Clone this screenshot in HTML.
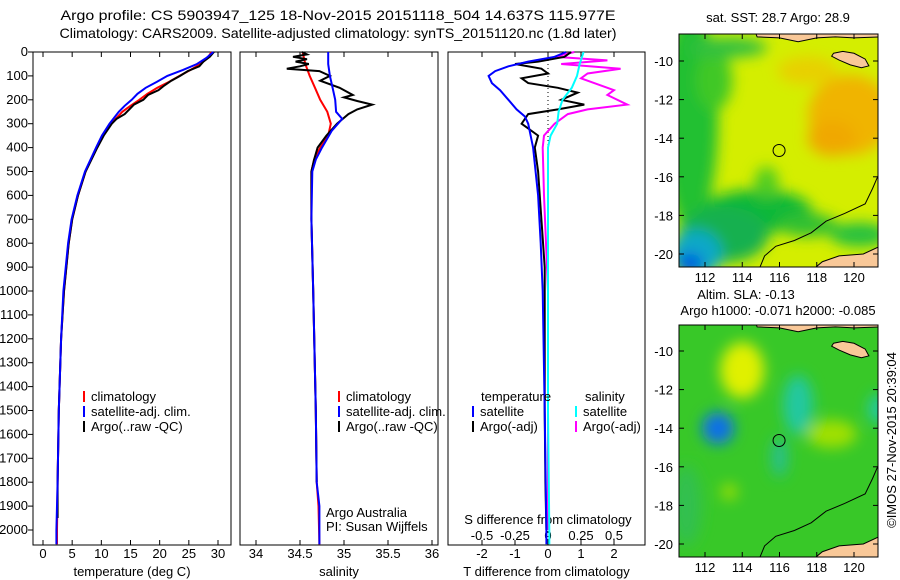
<!DOCTYPE html>
<html><head><meta charset="utf-8"><style>
body{margin:0;background:#fff;}
svg{display:block;font-family:"Liberation Sans",sans-serif;}
text{font-size:13px;fill:#000;}
</style></head><body>
<svg id="fig" width="900" height="580" viewBox="0 0 900 580">
<defs>
<filter id="blur1" x="-50%" y="-50%" width="200%" height="200%"><feGaussianBlur stdDeviation="7"/></filter>
<clipPath id="clipTop"><rect x="679" y="34" width="199" height="233"/></clipPath>
<clipPath id="clipBot"><rect x="679" y="325" width="199" height="232"/></clipPath>
</defs>
<text x="338" y="20" text-anchor="middle" textLength="555" lengthAdjust="spacingAndGlyphs" style="font-size:14px">Argo profile: CS 5903947_125 18-Nov-2015 20151118_504 14.637S 115.977E</text>
<text x="338" y="38" text-anchor="middle" textLength="557" lengthAdjust="spacingAndGlyphs" style="font-size:14px">Climatology: CARS2009. Satellite-adjusted climatology: synTS_20151120.nc (1.8d later)</text>
<g id="plots"></g>
<g id="maps"></g>
</svg>
<script>
// ---- data ----
var depthTicks=[0,100,200,300,400,500,600,700,800,900,1000,1100,1200,1300,1400,1500,1600,1700,1800,1900,2000];
var tempTicks=[0,5,10,15,20,25,30];
var salTicks=[34,34.5,35,35.5,36];
var salTickLabels=["34","34.5","35","35.5","36"];
var tdiffTicks=[-2,-1,0,1,2];
var sdiffTicks=[-0.5,-0.25,0,0.25,0.5];
var sdiffTickLabels=["-0.5","-0.25","0","0.25","0.5"];

var tClimDepth=[0,25,50,75,100,125,150,175,200,225,250,300,350,400,500,600,700,800,1000,1200,1500,1800,2000,2060];
var tClimVal=[28.9,28.2,27.0,25.3,23.4,21.6,19.6,17.9,16.5,15.0,13.6,11.7,10.3,9.2,7.3,6.0,5.0,4.4,3.6,3.1,2.7,2.5,2.4,2.4];
var tSatDepth=[0,25,50,75,100,125,150,175,200,225,250,300,350,400,500,600,700,800,1000,1200,1500,1800,2000,2060];
var tSatVal=[29.2,28.0,26.4,24.0,21.3,19.5,17.6,16.2,15.2,14.0,13.0,11.4,10.1,9.1,7.2,5.9,4.9,4.3,3.5,3.1,2.7,2.5,2.3,2.3];
var tArgoDepth=[0,20,40,60,80,100,120,140,160,180,200,220,240,260,280,300,350,400,500,600,700,800,1000,1200,1500,1800,1950];
var tArgoVal=[29.3,28.6,27.5,26.8,24.8,23.5,22.0,20.8,19.8,18.0,17.2,15.6,14.8,14.0,12.6,11.8,10.4,9.3,7.3,6.0,5.0,4.4,3.6,3.1,2.7,2.5,2.5];

var sClimDepth=[0,50,100,150,200,250,300,350,400,450,500,700,1000,1500,1800,1900,2060];
var sClimVal=[34.53,34.56,34.61,34.67,34.73,34.81,34.85,34.82,34.73,34.66,34.63,34.63,34.65,34.68,34.69,34.71,34.72];
var sSatDepth=[0,50,100,150,200,250,280,330,400,450,500,700,1000,1500,1800,1900,2060];
var sSatVal=[34.82,34.82,34.84,34.87,34.9,34.91,34.98,34.86,34.75,34.68,34.64,34.63,34.65,34.68,34.69,34.72,34.72];
var sArgoDepth=[0,10,20,30,40,50,60,70,80,100,120,150,180,190,205,220,240,260,300,350,400,450,500,700,1000,1500,1800];
var sArgoVal=[34.52,34.58,34.42,34.58,34.45,34.6,34.5,34.35,34.72,34.84,34.73,34.95,35.1,35.0,35.15,35.32,35.15,35.05,34.92,34.8,34.7,34.66,34.63,34.63,34.65,34.68,34.69];

var dTSatDepth=[0,20,40,60,80,100,130,160,200,240,270,300,400,600,800,1000,1500,2000,2060];
var dTSatVal=[0.55,0.2,-0.6,-1.2,-1.6,-1.8,-1.7,-1.45,-1.2,-0.95,-0.7,-0.6,-0.45,-0.3,-0.22,-0.16,-0.1,-0.05,-0.05];
var dTArgoDepth=[0,20,40,50,70,90,110,130,150,170,200,220,240,260,300,350,400,500,700,900,1500,1800,2000];
var dTArgoVal=[0.7,0.5,-0.3,-1.0,-0.2,0.0,-0.8,-0.6,0.3,0.9,0.4,1.1,0.3,-0.6,-0.8,-0.3,-0.4,-0.3,-0.2,-0.1,-0.1,-0.08,-0.05];
var dSSatDepth=[0,50,100,150,200,250,300,350,400,600,1000,1500,2000,2060];
var dSSatVal=[0.27,0.24,0.22,0.18,0.11,0.08,0.07,0.02,0.0,0.0,0.0,0.0,0.01,0.01];
var dSArgoDepth=[0,20,35,50,70,90,110,130,160,180,220,240,260,300,350,400,600,1000,1500,2000];
var dSArgoVal=[0.2,0.05,0.45,0.1,0.55,0.3,0.25,0.35,0.5,0.45,0.6,0.3,0.15,0.05,-0.03,-0.04,-0.03,0.0,0.0,0.0];

// ---- layout ----
var NS="http://www.w3.org/2000/svg";
var Y0=52, YB=545;
function yD(d){return Y0+(d/2000)*(530-Y0);}
var P1={x0:33,x1:231}, P2={x0:240,x1:438}, P3={x0:448,x1:645};
function xT(v){return 43+v*(175/30);}
function xS(v){return 256+(v-34)*88;}
function xDT(v){return 548+v*33;}
function xDS(v){return 548+v*132;}
var plots=document.getElementById('plots');
function mk(tag,attrs,parent){var e=document.createElementNS(NS,tag);for(var k in attrs)e.setAttribute(k,attrs[k]);(parent||plots).appendChild(e);return e;}
function txt(x,y,s,anchor,parent){var t=mk('text',{x:x,y:y,'text-anchor':anchor||'start'},parent);t.textContent=s;return t;}

function frame(P,name){
  var r=mk('rect',{x:P.x0,y:Y0,width:P.x1-P.x0,height:YB-Y0,fill:'none',stroke:'#000','stroke-width':1});
  
  
}
function series(ds,vs,fx,color,name){
  var pts=[];for(var i=0;i<ds.length;i++)pts.push(fx(vs[i]).toFixed(1)+','+yD(ds[i]).toFixed(1));
  var p=mk('polyline',{points:pts.join(' '),fill:'none',stroke:color,'stroke-width':2});
  
  
}
function xaxis(P,ticks,labels,fx,title,name){
  var g=mk('g',{});
  
  
  for(var i=0;i<ticks.length;i++){var x=fx(ticks[i]);
    mk('line',{x1:x,x2:x,y1:YB,y2:YB-5,stroke:'#000'},g);
    mk('line',{x1:x,x2:x,y1:Y0,y2:Y0+5,stroke:'#000'},g);
    var t=txt(x,558,labels[i],'middle',g);
    
    }
  var tt=txt((P.x0+P.x1)/2,576,title,'middle',g);
  
  
}
var ya=mk('g',{});


for(var i=0;i<depthTicks.length;i++){var y=yD(depthTicks[i]);
  mk('line',{x1:P1.x0-5,x2:P1.x0,y1:y,y2:y,stroke:'#000'},ya);
  var t=txt(28,y+4,String(depthTicks[i]),'end',ya);
  
  }

frame(P1,'temperature-panel');frame(P2,'salinity-panel');frame(P3,'difference-panel');
var z=mk('line',{x1:xDT(0),x2:xDT(0),y1:Y0,y2:YB,stroke:'#000','stroke-dasharray':'1,3'});



xaxis(P1,tempTicks,tempTicks.map(String),xT,'temperature (deg C)','temperature-axis');
xaxis(P2,salTicks,salTickLabels,xS,'salinity','salinity-axis');
xaxis(P3,tdiffTicks,tdiffTicks.map(String),xDT,'T difference from climatology','t-difference-axis');
var sg=mk('g',{});


txt(548,524,'S difference from climatology','middle',sg);
for(var i=0;i<sdiffTicks.length;i++){txt(xDS(sdiffTicks[i]),540,sdiffTickLabels[i],'middle',sg);}

series(tClimDepth,tClimVal,xT,'#ff0000','temp-climatology-line');
series(tArgoDepth,tArgoVal,xT,'#000000','temp-argo-line');
series(tSatDepth,tSatVal,xT,'#0000ff','temp-satellite-line');
series(sClimDepth,sClimVal,xS,'#ff0000','sal-climatology-line');
series(sArgoDepth,sArgoVal,xS,'#000000','sal-argo-line');
series(sSatDepth,sSatVal,xS,'#0000ff','sal-satellite-line');
series(dSArgoDepth,dSArgoVal,xDS,'#ff00ff','sdiff-argo-line');
series(dTArgoDepth,dTArgoVal,xDT,'#000000','tdiff-argo-line');
series(dSSatDepth,dSSatVal,xDS,'#00ffff','sdiff-satellite-line');
series(dTSatDepth,dTSatVal,xDT,'#0000ff','tdiff-satellite-line');

function legend(x,y,color,label,name){
  var g=mk('g',{});
  
  
  mk('line',{x1:x,x2:x,y1:y-10,y2:y+1,stroke:color,'stroke-width':2},g);
  if(label)txt(x+7,y,label,'start',g);
}
legend(84,401,'#ff0000','climatology','legend-climatology');
legend(84,416,'#0000ff','satellite-adj. clim.','legend-satellite');
legend(84,431,'#000000','Argo(..raw -QC)','legend-argo');
legend(339,401,'#ff0000','climatology','legend-climatology-2');
legend(339,416,'#0000ff','satellite-adj. clim.','legend-satellite-2');
legend(339,431,'#000000','Argo(..raw -QC)','legend-argo-2');
var lt=txt(481,401,'temperature');
var ls=txt(585,401,'salinity');
legend(473,416,'#0000ff','satellite','legend-t-satellite');
legend(473,431,'#000000','Argo(-adj)','legend-t-argo');
legend(576,416,'#00ffff','satellite','legend-s-satellite');
legend(576,431,'#ff00ff','Argo(-adj)','legend-s-argo');
var a1=txt(326,517,'Argo Australia');
var a2=txt(326,531,'PI: Susan Wijffels');

// ---- maps ----
var maps=document.getElementById('maps');
function lonX(l){return 705+(l-112)*18.625;}
function latY(top,la){return top+(-10-la)*19.3;}
function buildMap(top,clip,name,base,blobs){
  var g=mk('g',{'clip-path':'url(#'+clip+')'},maps);
  
  
  var by=(clip==='clipTop')?34:325;
  mk('rect',{x:679,y:by,width:199,height:233,fill:base},g);
  var bg=mk('g',{filter:'url(#blur1)'},g);
  blobs.forEach(function(b){mk('ellipse',{cx:lonX(b[0]),cy:latY(top,b[1]),rx:b[2],ry:b[3],fill:b[4]},bg);});
  var c=[[121.4,-15.7],[121.0,-16.6],[120.6,-17.4],[119.5,-17.9],[118.5,-18.3],[117.7,-18.9],[116.8,-19.3],[115.8,-19.6],[115.2,-20.1],[114.9,-20.8]];
  mk('polyline',{points:c.map(function(p){return lonX(p[0])+','+latY(top,p[1]);}).join(' '),fill:'none',stroke:'#000','stroke-width':1},g);
  var land='#f9c898';
  var aus=[[117.8,-20.8],[118.3,-20.4],[119.2,-20.1],[120.5,-20.0],[121.4,-19.6],[121.4,-20.8]];
  mk('polygon',{points:aus.map(function(p){return lonX(p[0])+','+latY(top,p[1]);}).join(' '),fill:land,stroke:'#000'},g);
  var indo=[[114.7,-8.5],[114.8,-8.75],[116,-8.8],[117,-9.0],[118,-8.8],[119,-8.75],[120,-8.8],[121.4,-8.75],[121.4,-8.5]];
  mk('polygon',{points:indo.map(function(p){return lonX(p[0])+','+latY(top,p[1]);}).join(' '),fill:land,stroke:'#000'},g);
  var sumba=[[118.9,-9.6],[119.4,-9.5],[120.0,-9.6],[120.6,-9.9],[120.8,-10.25],[120.4,-10.35],[119.8,-10.2],[119.2,-9.95],[118.8,-9.75]];
  mk('polygon',{points:sumba.map(function(p){return lonX(p[0])+','+latY(top,p[1]);}).join(' '),fill:land,stroke:'#000'},g);
  var m=mk('circle',{cx:lonX(115.977),cy:latY(top,-14.637),r:6,fill:'none',stroke:'#000','stroke-width':1},maps);
  
  
  mk('rect',{x:679,y:by,width:199,height:(clip==='clipTop'?233:232),fill:'none',stroke:'#000'},maps);
  [-10,-12,-14,-16,-18,-20].forEach(function(la){var y=latY(top,la);
    mk('line',{x1:679,x2:684,y1:y,y2:y,stroke:'#000'},maps);mk('line',{x1:873,x2:878,y1:y,y2:y,stroke:'#000'},maps);
    txt(673,y+5,String(la),'end',maps);});
  [112,114,116,118,120].forEach(function(lo){var x=lonX(lo);var yb=by+(clip==='clipTop'?233:232);
    mk('line',{x1:x,x2:x,y1:yb,y2:yb-5,stroke:'#000'},maps);mk('line',{x1:x,x2:x,y1:by,y2:by+5,stroke:'#000'},maps);
    txt(x,yb+15,String(lo),'middle',maps);});
}
buildMap(61,'clipTop','sst-map','#d4ee00',[
  [111.2,-13,28,110,'#20c030'],[112.5,-11,18,30,'#40c828'],[114.8,-17.8,55,22,'#10b838'],[113,-19,45,28,'#18b050'],
  [111.5,-20,26,24,'#10a8c8'],[111.2,-20.5,12,10,'#0050e0'],[113.2,-9.3,40,10,'#30c040'],
  [119.8,-12.8,42,40,'#f0b400'],[118.8,-14,24,18,'#f0a800'],[120.3,-19,30,12,'#20c040'],
  [115.3,-16.3,12,16,'#50cc20'],[117.5,-10.5,30,14,'#e8d000'],[117.5,-18.5,30,12,'#30c030']]);
buildMap(351,'clipBot','sla-map','#38c828',[
  [114,-11,22,28,'#e0f000'],[112.7,-14,16,16,'#1070e8'],[117,-12.8,15,30,'#20c8a0'],[118.8,-14.3,25,14,'#a0e000'],
  [113.3,-17.3,8,8,'#a0e000'],[121.3,-13,10,15,'#20c8a0'],[116,-15.5,8,20,'#28c090'],[111,-18,15,40,'#30c050']]);
var t1=txt(778,22,'sat. SST: 28.7 Argo: 28.9','middle',maps);
var t2=txt(746,299,'Altim. SLA: -0.13','middle',maps);
var t3=txt(778,315,'Argo h1000: -0.071 h2000: -0.085','middle',maps);
var t4=txt(0,0,'©IMOS 27-Nov-2015 20:39:04','middle',maps);
t4.setAttribute('transform','translate(896,440) rotate(-90)');


[lt,ls,a1,a2,t1,t2,t3].forEach(function(e){});
</script>
</body></html>
